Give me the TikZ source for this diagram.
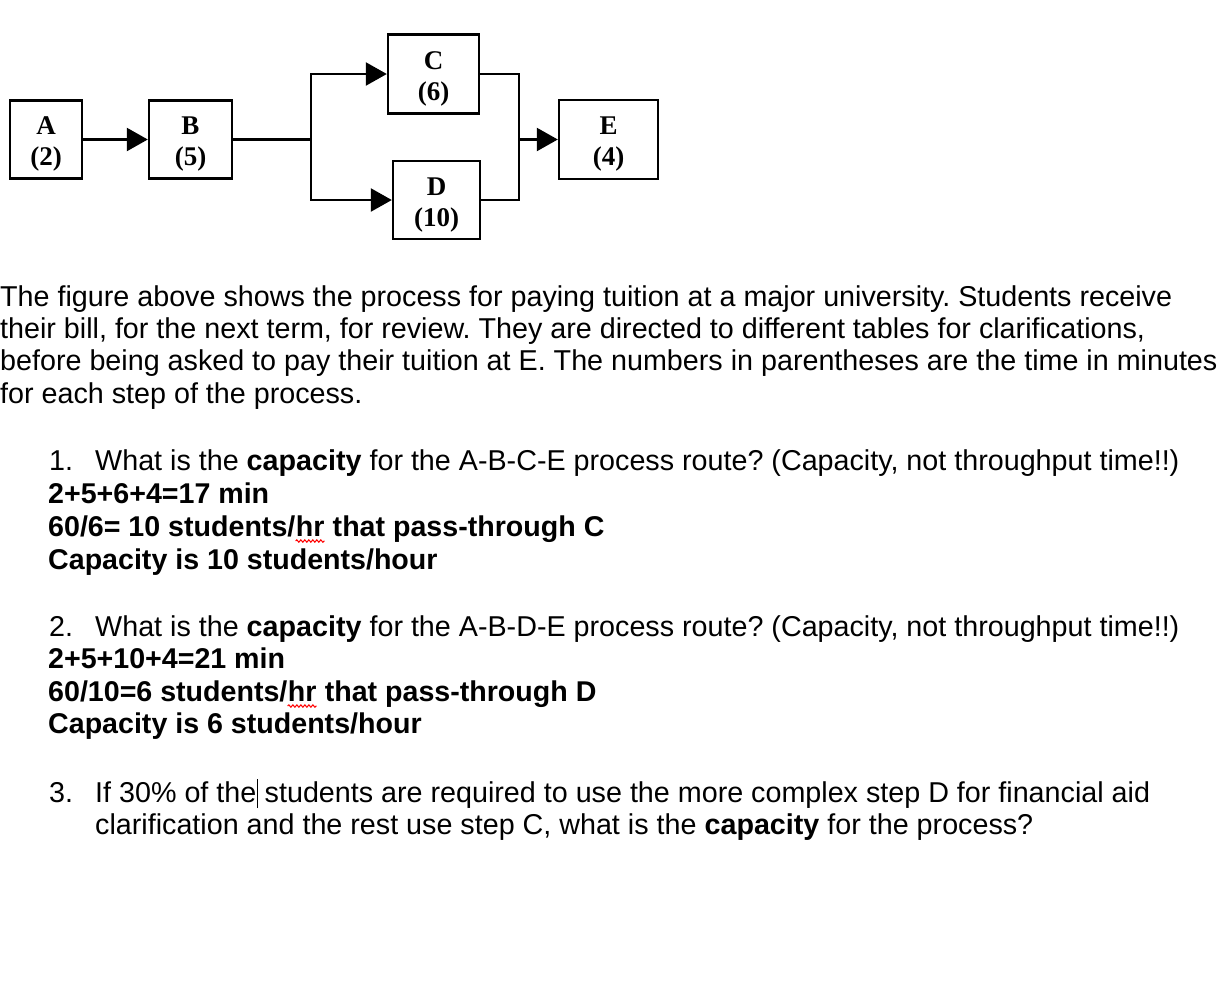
\documentclass[tikz,border=0pt]{standalone}
\usepackage{fontspec}
\setmainfont{Liberation Sans}
\newfontfamily\boxfont{Liberation Serif}
\usetikzlibrary{arrows.meta,decorations.pathmorphing}
\frenchspacing
\newcommand{\steplabel}[2]{\rule{0pt}{27pt}#1\\(#2)}

\begin{document}
\begin{tikzpicture}[
  x=1pt, y=-1pt,
  stepbox/.style={rectangle, draw, line width=2.4pt, inner sep=0pt, align=center, font=\boxfont\bfseries\fontsize{27}{31}\selectfont},
  link/.style={line width=2.4pt},
  arrow/.style={link, -{Triangle[length=21pt,width=23pt]}},
  txt/.style={anchor=base west, inner sep=0pt, font=\fontsize{28.7}{32.5}\selectfont},
  ans/.style={txt, font=\fontsize{28.6}{32.5}\selectfont\bfseries}
]
\useasboundingbox (0,0) rectangle (1222,994);

% Process steps
\node[stepbox, minimum width=72pt, minimum height=78pt] (a) at (46,139.5) {\steplabel{A}{2}};
\node[stepbox, minimum width=83pt, minimum height=78pt] (b) at (190.5,139.5) {\steplabel{B}{5}};
\node[stepbox, minimum width=91pt, minimum height=79pt] (c) at (433.5,74) {\steplabel{C}{6}};
\node[stepbox, minimum width=87pt, minimum height=78pt] (d) at (436.5,200) {\steplabel{D}{10}};
\node[stepbox, minimum width=99pt, minimum height=79pt] (e) at (608.5,139.5) {\steplabel{E}{4}};

% Split and merge points
\coordinate (split) at (311,139.5);
\coordinate (merge) at (519,139.5);

% Connectors
\draw[arrow] (a) -- (b);
\draw[link] (b) -- (split);
\draw[arrow] (split) |- (c);
\draw[arrow] (split) |- (d);
\draw[link] (c.east) -| (merge) |- (d.east);
\draw[arrow] (merge) -- (e);

% Description
\node[txt] (p1) at (0,306) {The figure above shows the process for paying tuition at a major university. Students receive};
\node[txt] (p2) at (0,338) {their bill, for the next term, for review. They are directed to different tables for clarifications,};
\node[txt] (p3) at (0,370) {before being asked to pay their tuition at E. The numbers in parentheses are the time in minutes};
\node[txt] (p4) at (0,403) {for each step of the process.};

% Question 1
\node[txt] (n1) at (49,470) {1.};
\node[txt] (q1) at (95,470) {What is the \textbf{capacity} for the A-B-C-E process route? (Capacity, not throughput time!!)};
\node[ans] (s1) at (48,503) {2+5+6+4=17 min};
\node[ans] (r1a) at (48,536) {60/6= 10 students/};
\node[ans] (r1b) at (r1a.base east) {hr};
\node[ans] (r1c) at (r1b.base east) {\ that pass-through C};
\node[ans] (k1) at (48,569) {Capacity is 10 students/hour};
\draw[red, line width=1pt, decorate, decoration={snake, amplitude=1.2pt, segment length=4pt}] ([yshift=-5pt]r1b.base west) -- ([yshift=-5pt]r1b.base east);

% Question 2
\node[txt] (n2) at (49,636) {2.};
\node[txt] (q2) at (95,636) {What is the \textbf{capacity} for the A-B-D-E process route? (Capacity, not throughput time!!)};
\node[ans] (s2) at (48,668) {2+5+10+4=21 min};
\node[ans] (r2a) at (48,701) {60/10=6 students/};
\node[ans] (r2b) at (r2a.base east) {hr};
\node[ans] (r2c) at (r2b.base east) {\ that pass-through D};
\node[ans] (k2) at (48,733) {Capacity is 6 students/hour};
\draw[red, line width=1pt, decorate, decoration={snake, amplitude=1.2pt, segment length=4pt}] ([yshift=-5pt]r2b.base west) -- ([yshift=-5pt]r2b.base east);

% Question 3
\node[txt] (n3) at (49,802) {3.};
\node[txt] (q3a) at (95,802) {If 30\% of the};
\node[txt] (q3b) at (q3a.base east) {\ students are required to use the more complex step D for financial aid};
\node[txt] (q3c) at (95,834) {clarification and the rest use step C, what is the \textbf{capacity} for the process?};
\draw[line width=1pt] ([xshift=1pt,yshift=-6pt]q3a.base east) -- ([xshift=1pt,yshift=23pt]q3a.base east);

\end{tikzpicture}
\end{document}
